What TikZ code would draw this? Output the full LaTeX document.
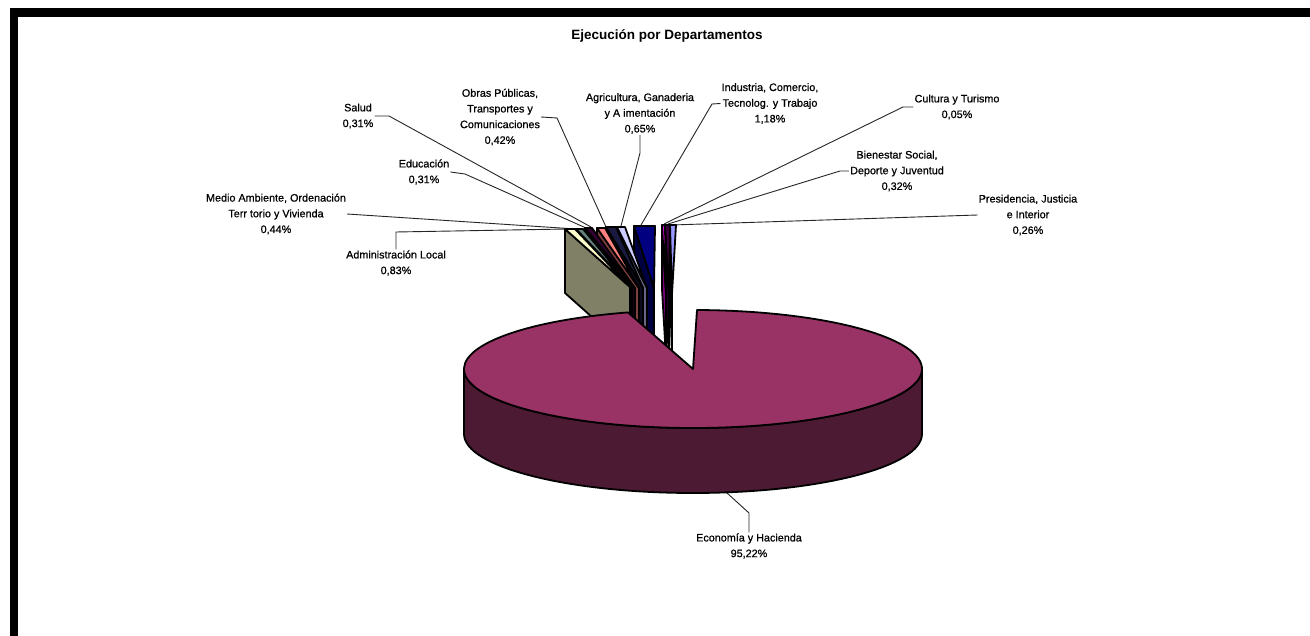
\documentclass[tikz,border=0pt]{standalone}
\usepackage{fontspec}
\setmainfont{Liberation Sans}
\newfontfamily\lblfont[FakeBold=0.7]{Liberation Sans}
\usetikzlibrary{calc}
\definecolor{econ}{HTML}{993366}
\definecolor{econside}{HTML}{4D1A33}
\definecolor{admtop}{HTML}{FFFFCC}
\definecolor{admside}{HTML}{808066}
\definecolor{medtop}{HTML}{668080}
\definecolor{medside}{HTML}{334040}
\definecolor{edutop}{HTML}{330033}
\definecolor{eduside}{HTML}{1A001A}
\definecolor{saltop}{HTML}{FF8080}
\definecolor{salside}{HTML}{804040}
\definecolor{obrtop}{HTML}{1A1A40}
\definecolor{obrside}{HTML}{0D0D20}
\definecolor{agrtop}{HTML}{CCCCFF}
\definecolor{agrside}{HTML}{666680}
\definecolor{indtop}{HTML}{000080}
\definecolor{indside}{HTML}{000040}
\definecolor{cultop}{HTML}{FF00FF}
\definecolor{culside}{HTML}{800080}
\definecolor{bietop}{HTML}{400040}
\definecolor{bieside}{HTML}{200020}
\definecolor{pretop}{HTML}{9999FF}
\definecolor{preside}{HTML}{4D4D80}
\newcommand\smallslice[5]{%
  \filldraw[slc, fill=#5] (#1) -- (#3) -- ($(#3)+(0,64)$) -- ($(#1)+(0,64)$) -- cycle;
  \filldraw[slc, fill=#4] (#1) -- (#2) -- (#3) -- cycle;}
\begin{document}
\begin{tikzpicture}[x=1pt,y=-1pt,
  slc/.style={draw=black, line width=1.8pt, line join=round},
  lead/.style={draw=black!85, line width=0.9pt},
  lbl/.style={font=\lblfont\fontsize{10.8}{15.7}\selectfont, align=center, inner sep=1pt}]
\useasboundingbox (0,0) rectangle (1310,636);
\fill[white] (0,0) rectangle (1310,636);
\fill[black] (10,8) rectangle (1310,17);
\fill[black] (10,8) rectangle (18,636);

% title
\node[font=\bfseries\fontsize{13.5}{16}\selectfont] (title) at (667,36) {Ejecución por Departamentos};

% labels
\node[lbl] (sal) at (358,116) {Salud\\0,31\%};
\node[lbl] (edu) at (424,172) {Educación\\0,31\%};
\node[lbl] (med) at (276,214) {Medio Ambiente, Ordenación\\Terr torio y Vivienda\\0,44\%};
\node[lbl] (adm) at (396,263) {Administración Local\\0,83\%};
\node[lbl] (obr) at (500,117) {Obras Públicas,\\Transportes y\\Comunicaciones\\0,42\%};
\node[lbl] (agr) at (640,113.5) {Agricultura, Ganaderia\\y A imentación\\0,65\%};
\node[lbl] (ind) at (770,103.5) {Industria, Comercio,\\Tecnolog. y Trabajo\\1,18\%};
\node[lbl] (cul) at (957,107) {Cultura y Turismo\\0,05\%};
\node[lbl] (bie) at (897,171) {Bienestar Social,\\Deporte y Juventud\\0,32\%};
\node[lbl] (pre) at (1028,215) {Presidencia, Justicia\\e Interior\\0,26\%};
\node[lbl] (eco) at (749,546) {Economía y Hacienda\\95,22\%};

% leader points
\coordinate (salB) at (389,116); \coordinate (salE) at (591,227);
\coordinate (eduB) at (465,174); \coordinate (eduE) at (586,228);
\coordinate (medE) at (576,229);
\coordinate (admB) at (396,232); \coordinate (admE) at (567,229);
\coordinate (obrB) at (557,118); \coordinate (obrE) at (606,227);
\coordinate (agrB) at (640,153); \coordinate (agrE) at (621,226);
\coordinate (indB) at (712,104); \coordinate (indE) at (641,225);
\coordinate (culB) at (903,107); \coordinate (culE) at (664,224);
\coordinate (bieB) at (840,171); \coordinate (bieE) at (668,224);
\coordinate (preE) at (672,225);
\coordinate (ecoB) at (749,513); \coordinate (ecoE) at (727,493);

% leaders
\draw[lead] (sal.east) -- (salB) -- (salE);
\draw[lead] (edu.east) -- (eduB) -- (eduE);
\draw[lead] (med.east) -- (medE);
\draw[lead] (adm.north) -- (admB) -- (admE);
\draw[lead] (obr.east) -- (obrB) -- (obrE);
\draw[lead] (agr.south) -- (agrB) -- (agrE);
\draw[lead] (ind.west) -- (indB) -- (indE);
\draw[lead] (cul.west) -- (culB) -- (culE);
\draw[lead] (bie.west) -- (bieB) -- (bieE);
\draw[lead] (pre.west) -- (preE);
\draw[lead] (eco.north) -- (ecoB) -- (ecoE);

% exploded small slices (right to left)
\smallslice{670,225}{676,225}{672,294}{pretop}{preside}
\smallslice{665,225}{670,225}{669,294}{bietop}{bieside}
\smallslice{662,225}{665,225}{666,294}{cultop}{culside}
\smallslice{634,226}{655,226}{654,288}{indtop}{indside}
\smallslice{617,227}{625,227}{647,288}{agrtop}{agrside}
\smallslice{606,227}{616,227}{643,288}{obrtop}{obrside}
\smallslice{597,228}{605,228}{639,288}{saltop}{salside}
\smallslice{585,228}{592,228}{635,288}{edutop}{eduside}
\smallslice{576,229}{583,229}{632,288}{medtop}{medside}
\smallslice{565,229}{575,229}{630,287}{admtop}{admside}

% main slice
\coordinate (C) at (693,369);
\filldraw[slc, fill=econside] (922,369) arc[start angle=0, end angle=180, x radius=229, y radius=59]
  -- ++(0,65) arc[start angle=180, end angle=0, x radius=229, y radius=59] -- cycle;
\filldraw[slc, fill=econ] (C) -- ++(-89:229 and 59)
  arc[start angle=-89, end angle=253.5, x radius=229, y radius=59] -- cycle;
\end{tikzpicture}
\end{document}
